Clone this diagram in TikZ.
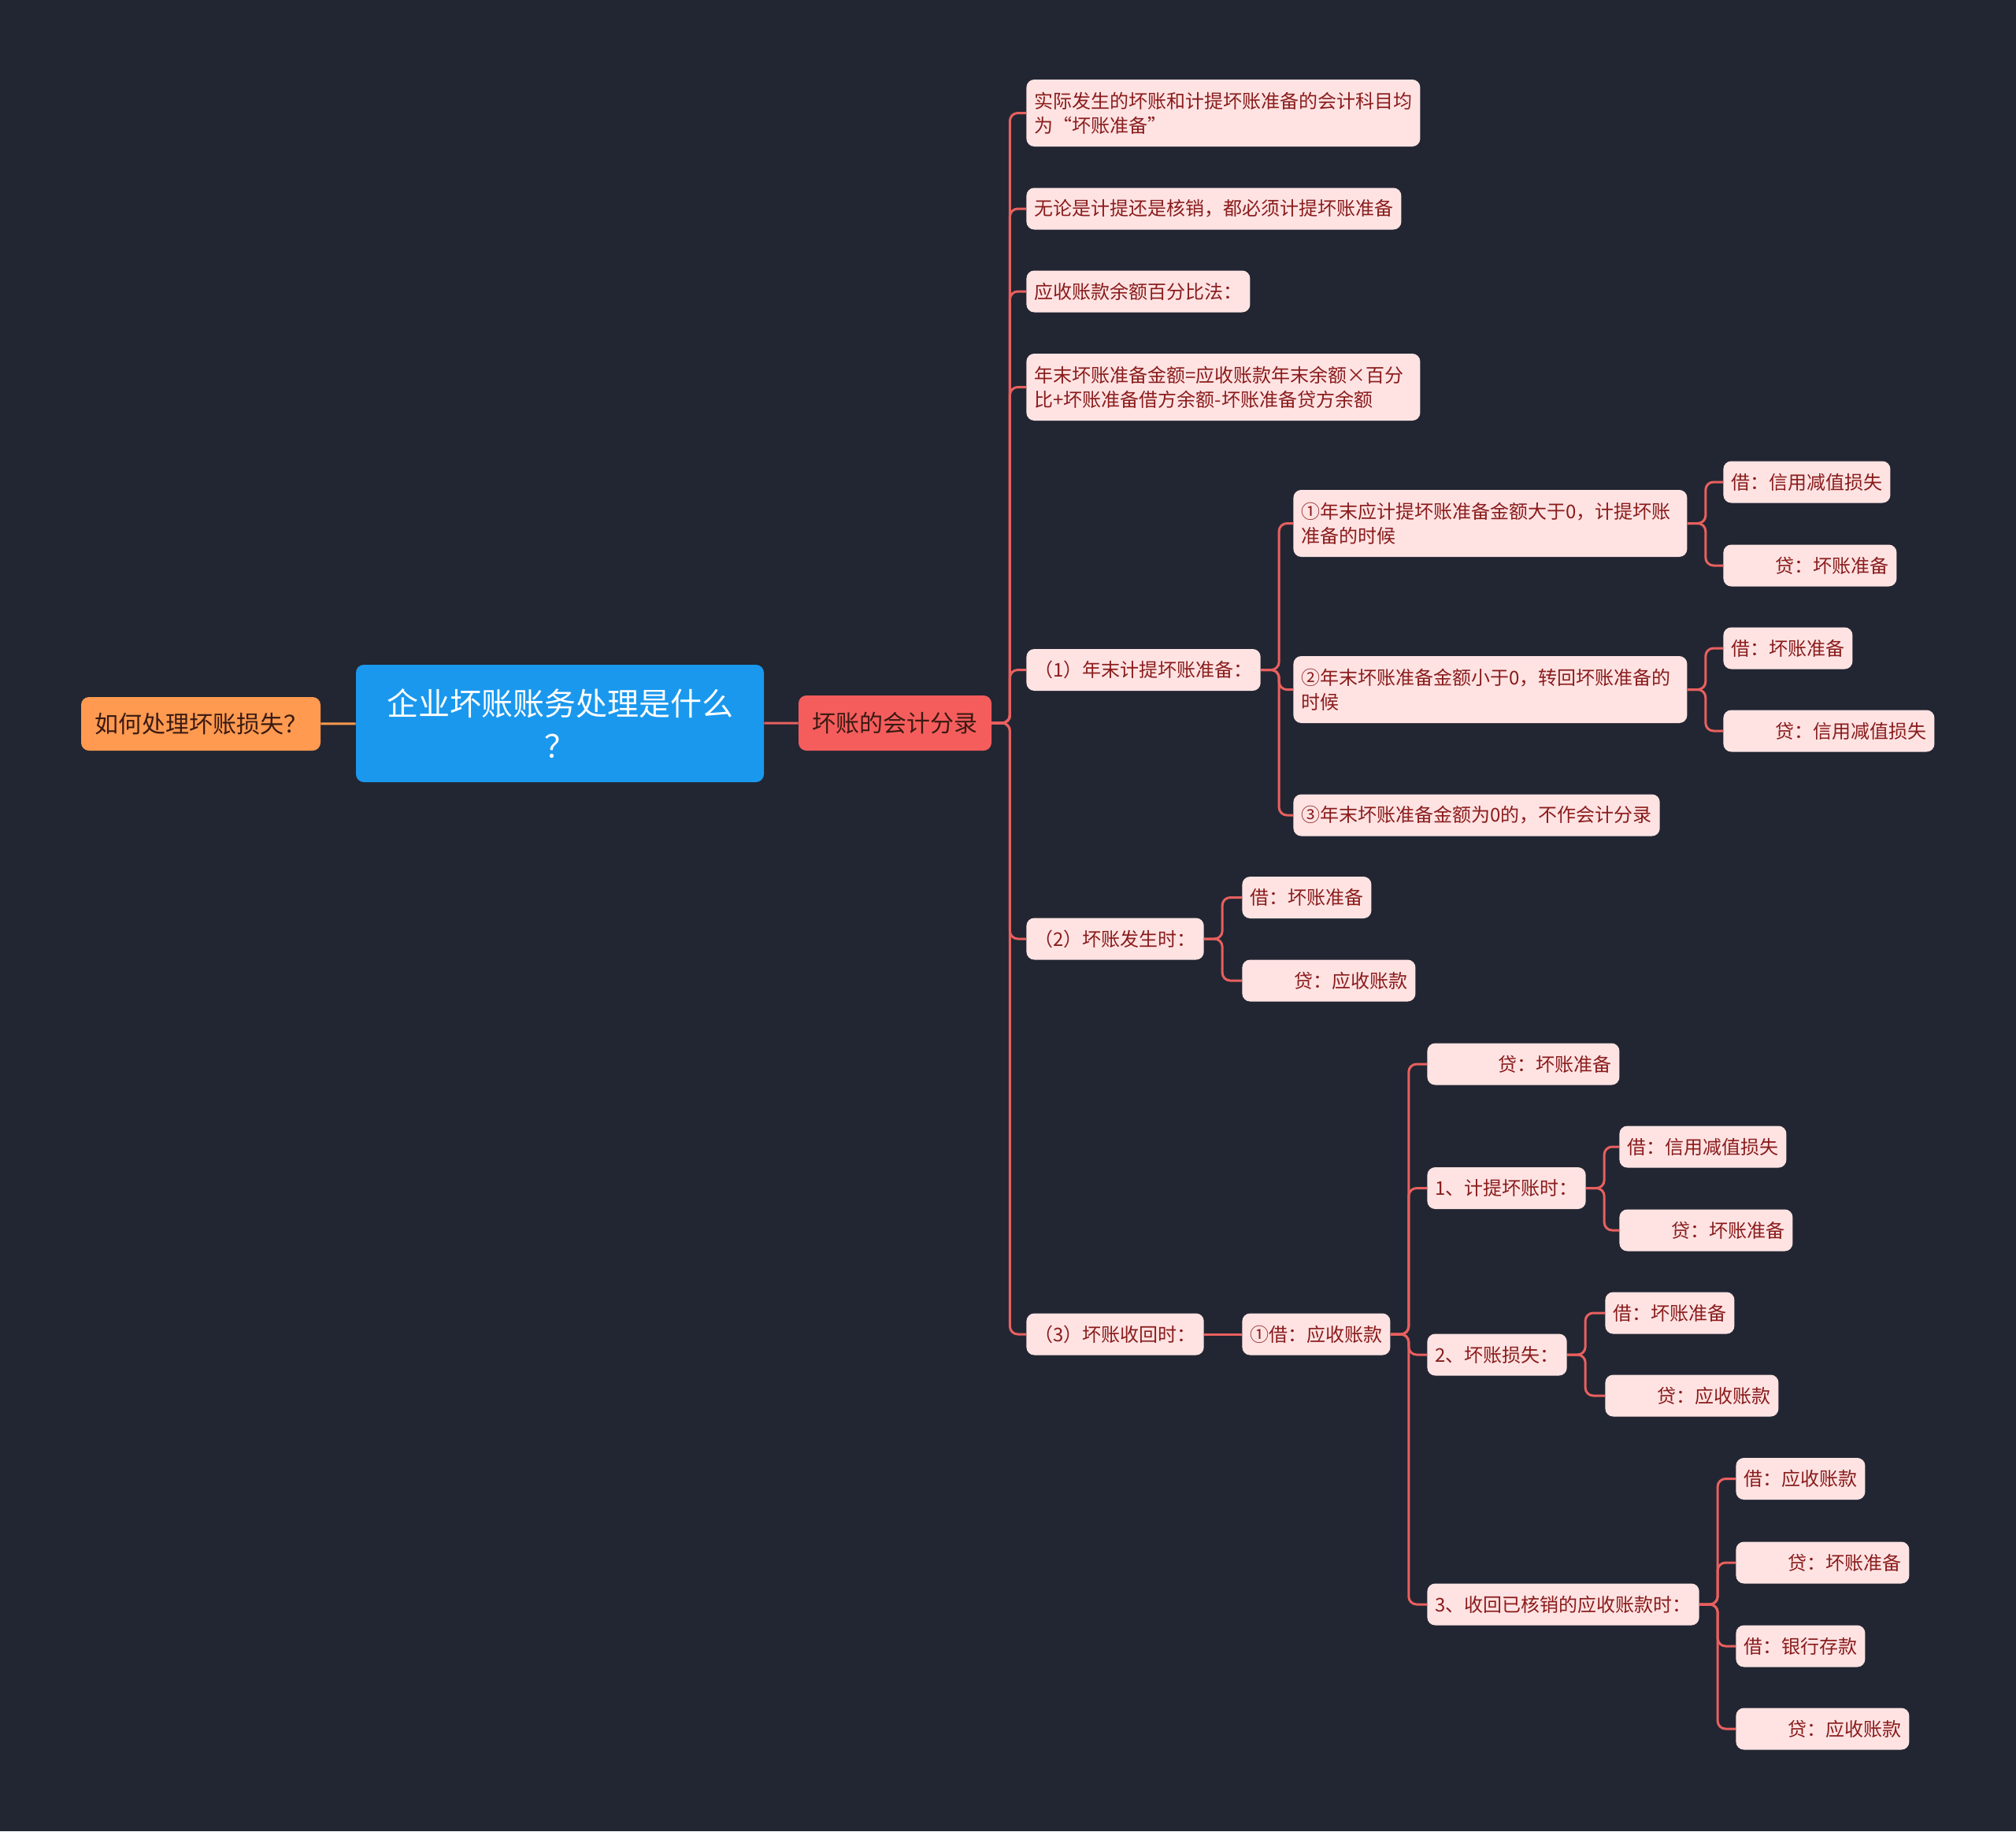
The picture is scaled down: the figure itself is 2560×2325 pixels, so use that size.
\documentclass[tikz,border=0pt]{standalone}
\usepackage{fontspec}
\setmainfont{Noto Sans CJK SC}
\usepackage{tikz}
\usepackage{xcolor}
\usetikzlibrary{positioning,calc}
\definecolor{night}{HTML}{222632}
\definecolor{leafbg}{HTML}{FFE3E3}
\definecolor{leafink}{HTML}{8A1C1C}
\definecolor{linkred}{HTML}{E8605F}
\definecolor{rootorange}{HTML}{FF9A50}
\definecolor{titleblue}{HTML}{1A98EE}
\definecolor{topicred}{HTML}{F55D5D}
\definecolor{darkink}{HTML}{3A1A12}
\tikzset{
  leaf/.style={fill=leafbg,rounded corners=5pt,text=leafink,anchor=west,
               font=\fontsize{12}{15.5}\selectfont,inner xsep=5pt,inner ysep=0pt,
               minimum height=26.5pt,align=left},
  twoline/.style={leaf,text width=240pt,minimum height=42.5pt},
  credit/.style={leaf,text width=#1,align=right},
  rootbox/.style={fill=rootorange,rounded corners=5pt,text=darkink,
                  font=\fontsize{15}{18}\selectfont,minimum width=152pt,minimum height=34pt,inner sep=0pt},
  titlebox/.style={fill=titleblue,rounded corners=5pt,text=white,align=center,
                   font=\fontsize{20}{27}\selectfont,minimum width=259pt,minimum height=74.5pt,inner sep=0pt},
  topicbox/.style={fill=topicred,rounded corners=5pt,text=darkink,
                   font=\fontsize{15}{18}\selectfont,minimum width=122.5pt,minimum height=35pt,inner sep=0pt},
  link/.style={draw=linkred,line width=1.5pt,rounded corners=5pt}
}

\begin{document}
\begin{tikzpicture}[x=0.5pt,y=-0.5pt]
  \fill[night] (0,0) rectangle (2560,2325);
  \useasboundingbox (0,0) rectangle (2560,2325);

  % centre and its two sides
  \node[rootbox]  (ask)   at (255,919)    {如何处理坏账损失？};
  \node[titlebox] (title) at (711,918.5)  {企业坏账账务处理是什么\\？};
  \node[topicbox] (entry) at (1136.5,918) {坏账的会计分录};
  \draw[line width=1.5pt,rootorange] (ask) -- (title);
  \draw[link] (title) -- (entry);

  % second level
  \node[twoline] (fact) at (1303,143.5) {实际发生的坏账和计提坏账准备的会计科目均\\为“坏账准备”};
  \node[leaf] (must)    at (1303,265)   {无论是计提还是核销，都必须计提坏账准备};
  \node[leaf] (pct)     at (1303,370)   {应收账款余额百分比法：};
  \node[twoline] (formula) at (1303,491.5) {年末坏账准备金额=应收账款年末余额×百分\\比+坏账准备借方余额-坏账准备贷方余额};
  \node[leaf] (yearend) at (1303,850.5) {（1）年末计提坏账准备：};
  \node[leaf] (occur)   at (1303,1192)  {（2）坏账发生时：};
  \node[leaf] (recover) at (1303,1694)  {（3）坏账收回时：};

  % year end cases
  \node[twoline] (caseA) at (1642,664.5) {①年末应计提坏账准备金额大于0，计提坏账\\准备的时候};
  \node[twoline] (caseB) at (1642,875.5) {②年末坏账准备金额小于0，转回坏账准备的\\时候};
  \node[leaf] (caseC) at (1642,1035) {③年末坏账准备金额为0的，不作会计分录};
  \node[leaf]          (caseAdr) at (2188,612) {借：信用减值损失};
  \node[credit=100pt]  (caseAcr) at (2188,718) {贷：坏账准备};
  \node[leaf]          (caseBdr) at (2188,823) {借：坏账准备};
  \node[credit=124pt]  (caseBcr) at (2188,928) {贷：信用减值损失};

  % write-off
  \node[leaf]         (occurdr) at (1577,1139.5) {借：坏账准备};
  \node[credit=100pt] (occurcr) at (1577,1245)   {贷：应收账款};

  % recovery
  \node[leaf] (recdr) at (1577,1694) {①借：应收账款};
  \node[credit=112pt] (reccr) at (1812,1351) {贷：坏账准备};
  \node[leaf] (stepA) at (1812,1508.5) {1、计提坏账时：};
  \node[leaf] (stepB) at (1812,1720)   {2、坏账损失：};
  \node[leaf] (stepC) at (1812,2037)   {3、收回已核销的应收账款时：};
  \node[leaf]         (stepAdr) at (2056,1456) {借：信用减值损失};
  \node[credit=100pt] (stepAcr) at (2056,1562) {贷：坏账准备};
  \node[leaf]         (stepBdr) at (2038,1667) {借：坏账准备};
  \node[credit=100pt] (stepBcr) at (2038,1772) {贷：应收账款};
  \node[leaf]         (stepCa) at (2204,1877.5) {借：应收账款};
  \node[credit=100pt] (stepCb) at (2204,1984)   {贷：坏账准备};
  \node[leaf]         (stepCc) at (2204,2090)   {借：银行存款};
  \node[credit=100pt] (stepCd) at (2204,2195)   {贷：应收账款};

  % connectors: parent/child lists
  \foreach \kid in {fact,must,pct,formula,yearend,occur,recover}
    \draw[link] (entry.east) -- ++(23,0) |- (\kid.west);
  \foreach \kid in {caseA,caseB,caseC}
    \draw[link] (yearend.east) -- ++(23,0) |- (\kid.west);
  \foreach \kid in {caseAdr,caseAcr}
    \draw[link] (caseA.east) -- ++(23,0) |- (\kid.west);
  \foreach \kid in {caseBdr,caseBcr}
    \draw[link] (caseB.east) -- ++(23,0) |- (\kid.west);
  \foreach \kid in {occurdr,occurcr}
    \draw[link] (occur.east) -- ++(23,0) |- (\kid.west);
  \draw[link] (recover) -- (recdr);
  \foreach \kid in {reccr,stepA,stepB,stepC}
    \draw[link] (recdr.east) -- ++(23,0) |- (\kid.west);
  \foreach \kid in {stepAdr,stepAcr}
    \draw[link] (stepA.east) -- ++(23,0) |- (\kid.west);
  \foreach \kid in {stepBdr,stepBcr}
    \draw[link] (stepB.east) -- ++(23,0) |- (\kid.west);
  \foreach \kid in {stepCa,stepCb,stepCc,stepCd}
    \draw[link] (stepC.east) -- ++(23,0) |- (\kid.west);
\end{tikzpicture}
\end{document}
